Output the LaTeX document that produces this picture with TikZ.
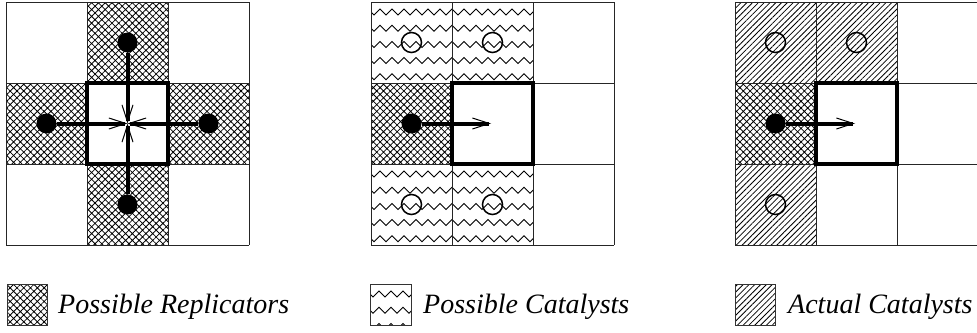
\documentclass[tikz,border=0pt]{standalone}
\usepackage{fontspec}
\setmainfont{Liberation Serif}
\newfontfamily\legendfont{Liberation Serif Italic}
\usetikzlibrary{patterns.meta,arrows.meta}

\tikzset{
  cellline/.style={line width=1pt, draw=black!85},
  centerbox/.style={line width=3.3pt, draw=black},
  xhatch/.style={pattern={Hatch[angle=45,distance=4.8pt,line width=0.8pt]}},
  shatch/.style={pattern={Lines[angle=45,distance=4.1pt,line width=0.8pt]}},
  zig/.style={line width=0.9pt},
  rdot/.style={circle,fill=black,minimum size=20pt,inner sep=0pt},
  ring/.style={circle,draw=black,line width=1.5pt,minimum size=20pt,inner sep=0pt},
  move/.style={line width=4pt,-{Straight Barb[length=17pt,width=11pt,line width=1pt]}},
  legendtext/.style={anchor=base west,font=\fontsize{28}{30}\legendfont,inner sep=0pt},
  legendbox/.style={line width=1pt,draw=black!80}
}

% zigzag fill of a rectangle: x1 y1 x2 y2
\newcommand\zigzagin[4]{%
  \begin{scope}
    \clip (#1,#2) rectangle (#3,#4);
    \foreach \r in {0,...,5}{
      \draw[zig] (#1-3,#2+7+\r*16.2) \foreach \k in {1,...,15}{ -- ++(6,6) -- ++(6,-6)};
    }
  \end{scope}}

% 3x3 cell grid with left edge x0
\newcommand\cellgrid[1]{%
  \foreach \i in {0,...,3}{
    \draw[cellline] (#1+\i*81,2) -- (#1+\i*81,245);
    \draw[cellline] (#1,2+\i*81) -- (#1+243,2+\i*81);
  }}

\begin{document}
\begin{tikzpicture}[x=1pt,y=-1pt]
\useasboundingbox (0,0) rectangle (977,332);

% ---------- left grid: all four neighbours can replicate into the centre
\fill[xhatch] (87,2) rectangle (168,83);
\fill[xhatch] (6,83) rectangle (87,164);
\fill[xhatch] (168,83) rectangle (249,164);
\fill[xhatch] (87,164) rectangle (168,245);
\cellgrid{6}
\draw[centerbox] (87,83) rectangle (168,164);
\coordinate (c1) at (127.5,123.5);
\node[rdot] (t1) at (127.5,42.5) {};
\node[rdot] (l1) at (46.5,123.5) {};
\node[rdot] (r1) at (208.5,123.5) {};
\node[rdot] (b1) at (127.5,204.5) {};
\draw[move] (t1) -- (c1);
\draw[move] (l1) -- (c1);
\draw[move] (r1) -- (c1);
\draw[move] (b1) -- (c1);

% ---------- middle grid: possible catalysts around a replication
\zigzagin{371}{2}{533}{83}
\zigzagin{371}{164}{533}{245}
\fill[xhatch] (371,83) rectangle (452,164);
\cellgrid{371}
\draw[centerbox] (452,83) rectangle (533,164);
\coordinate (c2) at (491,123.5);
\node[rdot] (l2) at (411.5,123.5) {};
\draw[move] (l2) -- (c2);
\node[ring] (p1) at (411.5,42.5) {};
\node[ring] (p2) at (492.5,42.5) {};
\node[ring] (p3) at (411.5,204.5) {};
\node[ring] (p4) at (492.5,204.5) {};

% ---------- right grid: actual catalysts
\fill[shatch] (735,2) rectangle (897,83);
\fill[shatch] (735,164) rectangle (816,245);
\fill[xhatch] (735,83) rectangle (816,164);
\cellgrid{735}
\draw[centerbox] (816,83) rectangle (897,164);
\coordinate (c3) at (855,123.5);
\node[rdot] (l3) at (775.5,123.5) {};
\draw[move] (l3) -- (c3);
\node[ring] (a1) at (775.5,42.5) {};
\node[ring] (a2) at (856.5,42.5) {};
\node[ring] (a3) at (775.5,204.5) {};

% ---------- legend
\fill[xhatch] (7,284) rectangle (47,325);
\draw[legendbox] (7,284) rectangle (47,325);
\node[legendtext] (lg1) at (58,313) {Possible Replicators};

\zigzagin{370}{284}{411}{325}
\draw[legendbox] (370,284) rectangle (411,325);
\node[legendtext] (lg2) at (423,313) {Possible Catalysts};

\fill[shatch] (735,284) rectangle (775,325);
\draw[legendbox] (735,284) rectangle (775,325);
\node[legendtext] (lg3) at (788,313) {Actual Catalysts};
\end{tikzpicture}
\end{document}
